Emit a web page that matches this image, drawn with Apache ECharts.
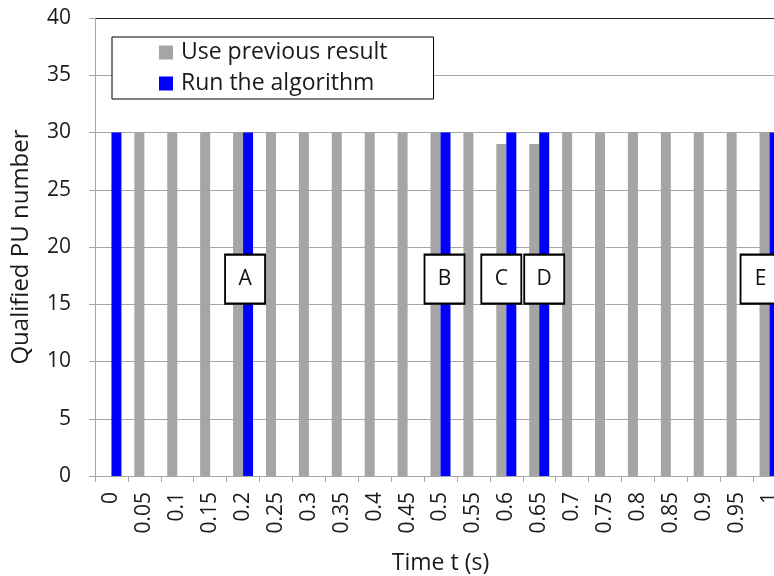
<!DOCTYPE html>
<html>
<head>
<meta charset="utf-8">
<script src="https://cdn.jsdelivr.net/npm/echarts@6/dist/echarts.min.js"></script>
<style>html,body{margin:0;padding:0;background:#fff;}#c{width:774px;height:576px;}</style>
</head>
<body>
<div id="c"></div>
<script>
var categories = ['0','0.05','0.1','0.15','0.2','0.25','0.3','0.35','0.4','0.45','0.5','0.55','0.6','0.65','0.7','0.75','0.8','0.85','0.9','0.95','1'];
var usePrevious = [0,30,30,30,30,30,30,30,30,30,30,30,29,29,30,30,30,30,30,30,30];
var runAlgorithm = [30,0,0,0,30,0,0,0,0,0,30,0,30,30,0,0,0,0,0,0,30];
var annotationLabels = ['A','B','C','D','E'];
var annotationTimes = ['0.2','0.5','0.6','0.65','1'];
var annotationLevel = 17.2;

var FONT = 'Open Sans';
var annotationOffsets = [-3, -1, -10, 0, -14];
var chart = echarts.init(document.getElementById('c'));
var gridColors = ['#a6a6a6','#a6a6a6','#a6a6a6','#a6a6a6','#a6a6a6','#a6a6a6','#a6a6a6','#a6a6a6','#262626'];
chart.setOption({
  animation: false,
  textStyle: {fontFamily: FONT},
  grid: {left: 95, top: 18, width: 691, bottom: 100, containLabel: false, outerBoundsMode: 'none'},
  legend: {
    orient: 'vertical', left: 112, top: 37,
    padding: [4, 46, 4, 47], itemGap: 8, itemWidth: 14, itemHeight: 14,
    backgroundColor: '#fff', borderColor: '#000', borderWidth: 1,
    textStyle: {fontSize: 23, color: '#1a1a1a', fontFamily: FONT, padding: [0, 0, 0, 3]},
    data: [{name: 'Use previous result', icon: 'rect'}, {name: 'Run the algorithm', icon: 'rect'}]
  },
  xAxis: {
    type: 'category', data: categories,
    name: 'Time t (s)', nameLocation: 'middle', nameGap: 76,
    nameTextStyle: {fontSize: 23, color: '#1a1a1a', fontFamily: FONT},
    axisLine: {lineStyle: {color: '#a6a6a6'}},
    axisTick: {show: true, length: 6, interval: 0, lineStyle: {color: '#a6a6a6'}},
    axisLabel: {rotate: 90, interval: 0, fontSize: 21, color: '#1a1a1a', margin: 16, fontFamily: FONT}
  },
  yAxis: {
    type: 'value', min: 0, max: 40, interval: 5,
    name: 'Qualified PU number', nameLocation: 'middle', nameGap: 62, nameRotate: 90,
    nameTextStyle: {fontSize: 24, color: '#1a1a1a', fontFamily: FONT},
    axisLine: {show: true, lineStyle: {color: '#a6a6a6'}},
    axisTick: {show: true, length: 6, lineStyle: {color: '#a6a6a6'}},
    axisLabel: {fontSize: 21, color: '#1a1a1a', margin: 24, fontFamily: FONT},
    splitLine: {show: true, lineStyle: {color: gridColors, width: 1}}
  },
  series: [
    {name: 'Use previous result', type: 'bar', data: usePrevious, barWidth: 10, barGap: '0%',
     itemStyle: {color: '#a5a5a5'}},
    {name: 'Run the algorithm', type: 'bar', data: runAlgorithm, barWidth: 10, barGap: '0%',
     itemStyle: {color: '#0000ff'},
     markPoint: {
       symbol: 'rect', symbolSize: [40, 49],
       itemStyle: {color: '#fff', borderColor: '#000', borderWidth: 2},
       label: {show: true, position: 'inside', color: '#111', fontSize: 21, fontFamily: FONT, formatter: '{b}'},
       data: annotationLabels.map(function (l, i) {
         return {name: l, coord: [annotationTimes[i], annotationLevel], symbolOffset: [annotationOffsets[i], 0]};
       })
     }}
  ]
});
</script>
</body>
</html>
